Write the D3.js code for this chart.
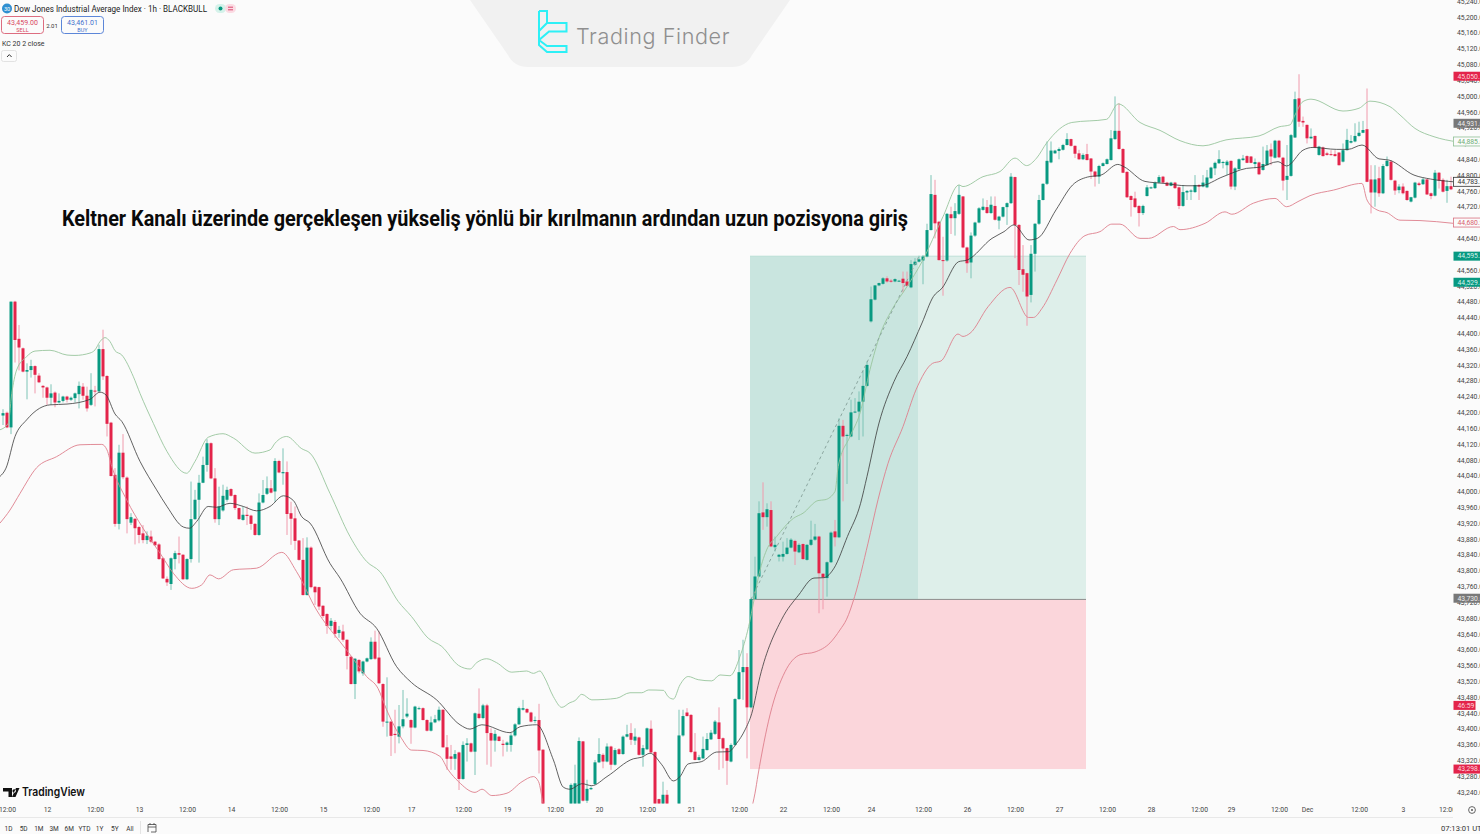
<!DOCTYPE html>
<html>
<head>
<meta charset="utf-8">
<script src="https://cdn.jsdelivr.net/npm/d3@7"></script>
<style>
  html, body { margin: 0; padding: 0; background: #fbfbfb; overflow: hidden; }
  svg { display: block; font-family: Roboto, sans-serif; }
</style>
</head>
<body>
<svg id="chart" width="1480" height="834"></svg>
<script>
// hourly candles
var opens = [
  44192,44199,44162,44480,44386,44362,44303,44307,44317,44293,
  44267,44263,44237,44250,44225,44229,44240,44232,44236,44246,
  44265,44242,44219,44255,44253,44360,44292,44174,44042,43918,
  44098,44035,43921,43931,43910,43894,43877,43886,43873,43866,
  43831,43779,43766,43829,43844,43840,43778,43829,43930,43979,
  44022,44067,44122,44033,43930,43952,43979,44006,43991,43958,
  43928,43941,43939,43918,43890,43972,43994,44008,44000,44077,
  44046,44049,43945,43932,43876,43827,43738,43858,43759,43758,
  43711,43690,43660,43670,43642,43646,43625,43582,43513,43574,
  43540,43570,43576,43620,43580,43513,43416,43418,43387,43380,
  43406,43431,43422,43403,43450,43452,43422,43395,43416,43421,
  43448,43353,43330,43324,43340,43273,43359,43363,43342,43438,
  43427,43459,43389,43370,43380,43362,43359,43359,43383,43411,
  43448,43450,43441,43420,43422,43347,43200,43170,43190,43195,
  43180,43185,43190,43200,43205,43368,43218,43247,43260,43315,
  43334,43317,43355,43309,43348,43336,43380,43389,43370,43378,
  43334,43348,43400,43341,43222,43200,43233,43195,43180,43195,
  43383,43441,43435,43342,43321,43325,43346,43373,43387,43416,
  43376,43351,43317,43359,43475,43543,43556,43454,43728,43785,
  43947,43935,43953,43859,43835,43835,43842,43858,43875,43846,
  43867,43827,43865,43878,43886,43792,43781,43821,43899,43884,
  44166,44141,44139,44200,44202,44227,44267,44430,44485,44521,
  44525,44539,44533,44531,44532,44538,44531,44516,44573,44581,
  44584,44594,44661,44750,44682,44585,44584,44701,44691,44702,
  44746,44617,44579,44647,44680,44712,44719,44704,44722,44685,
  44695,44719,44729,44795,44674,44562,44552,44497,44601,44677,
  44737,44778,44832,44855,44861,44864,44876,44891,44874,44855,
  44840,44853,44842,44809,44796,44823,44828,44838,44891,44912,
  44866,44808,44747,44741,44722,44704,44747,44767,44767,44781,
  44796,44781,44773,44781,44769,44722,44756,44758,44757,44775,
  44771,44769,44792,44817,44830,44831,44825,44836,44771,44815,
  44838,44848,44847,44828,44832,44813,44825,44865,44844,44887,
  44844,44788,44798,44895,44994,44937,44927,44893,44899,44851,
  44870,44855,44853,44853,44857,44834,44863,44882,44885,44899,
  44907,44916,44789,44756,44792,44754,44823,44834,44786,44762,
  44771,44760,44733,44743,44779,44777,44789,44754,44748,44806,
  44788,44760,44772
];
var highs = [
  44208,44202,44480,44482,44421,44364,44324,44333,44319,44299,
  44269,44265,44271,44253,44248,44242,44242,44240,44250,44278,
  44274,44265,44299,44267,44371,44409,44294,44176,44059,44118,
  44145,44038,43945,43932,43913,43915,43899,43901,43875,43869,
  43833,43785,43833,43850,43886,43841,43831,44025,44004,44042,
  44088,44132,44124,44059,44012,44017,44012,44008,43993,43959,
  43962,43962,43941,43920,43995,44029,44038,44029,44084,44080,
  44109,44076,43974,43962,43877,43882,43884,43861,43761,43759,
  43712,43692,43680,43675,43660,43663,43626,43584,43579,43576,
  43572,43580,43631,43648,43646,43515,43530,43420,43448,43460,
  43498,43477,43424,43458,43456,43454,43424,43431,43435,43456,
  43449,43384,43359,43346,43342,43368,43376,43365,43441,43502,
  43463,43463,43401,43397,43382,43372,43368,43389,43414,43456,
  43473,43452,43443,43431,43463,43348,43205,43195,43200,43205,
  43195,43200,43262,43309,43378,43369,43271,43254,43321,43376,
  43338,43363,43357,43351,43351,43383,43410,43414,43401,43380,
  43359,43403,43421,43343,43223,43266,43245,43200,43195,43448,
  43448,43452,43437,43389,43334,43380,43389,43397,43422,43454,
  43378,43352,43363,43477,43599,43625,43591,43729,43835,43975,
  44023,43970,43975,43886,43842,43873,43882,43882,43878,43869,
  43869,43867,43926,43918,43888,43793,43823,43899,43928,44185,
  44181,44146,44232,44236,44253,44306,44329,44518,44522,44528,
  44542,44544,44537,44539,44535,44556,44556,44585,44590,44596,
  44598,44677,44800,44788,44684,44644,44704,44720,44729,44775,
  44747,44619,44655,44682,44719,44741,44737,44746,44746,44697,
  44720,44731,44805,44796,44676,44623,44553,44623,44678,44750,
  44779,44885,44885,44864,44870,44879,44906,44892,44875,44864,
  44855,44879,44843,44811,44826,44832,44842,44914,44999,44982,
  44868,44810,44749,44758,44724,44725,44775,44771,44784,44800,
  44798,44783,44783,44783,44771,44775,44762,44764,44800,44777,
  44800,44813,44821,44834,44863,44836,44838,44837,44820,44842,
  44851,44850,44848,44842,44834,44872,44876,44880,44889,44889,
  44846,44876,44904,45011,45055,44948,44928,44918,44900,44874,
  44872,44859,44863,44863,44858,44880,44917,44901,44931,44935,
  44937,45019,44825,44825,44821,44828,44847,44838,44788,44777,
  44779,44761,44745,44783,44783,44794,44791,44756,44813,44808,
  44792,44788,44796
];
var lows = [
  44168,44160,44145,44326,44306,44301,44233,44288,44248,44274,
  44237,44219,44219,44213,44223,44225,44225,44229,44225,44210,
  44232,44202,44216,44215,44250,44282,44139,44038,43911,43904,
  44031,43894,43915,43866,43869,43869,43867,43869,43862,43827,
  43779,43761,43751,43803,43818,43776,43776,43820,43928,43820,
  44021,44050,44031,43921,43915,43949,43974,43987,43953,43928,
  43926,43915,43903,43888,43888,43970,43991,43995,43974,44046,
  44017,43890,43865,43852,43825,43737,43737,43755,43713,43700,
  43680,43640,43650,43630,43630,43620,43550,43512,43475,43540,
  43534,43568,43574,43574,43513,43405,43380,43331,43338,43363,
  43401,43427,43362,43401,43448,43421,43393,43393,43414,43418,
  43352,43296,43296,43296,43245,43271,43317,43340,43283,43424,
  43424,43309,43304,43342,43368,43330,43342,43342,43380,43410,
  43446,43439,43416,43414,43287,43180,43165,43165,43180,43185,
  43170,43175,43170,43180,43190,43216,43212,43245,43258,43313,
  43300,43315,43296,43307,43334,43334,43378,43359,43359,43332,
  43304,43346,43338,43180,43190,43190,43190,43175,43175,43180,
  43380,43431,43338,43320,43320,43324,43345,43372,43384,43296,
  43300,43258,43315,43357,43473,43473,43325,43452,43726,43783,
  43903,43911,43859,43848,43823,43823,43840,43856,43814,43844,
  43827,43825,43862,43875,43692,43702,43734,43819,43861,43882,
  43975,44019,44137,44198,44130,44139,44265,44427,44483,44519,
  44523,44528,44528,44529,44530,44503,44518,44514,44571,44579,
  44524,44592,44660,44640,44584,44495,44581,44651,44647,44699,
  44615,44553,44539,44644,44678,44710,44702,44702,44685,44663,
  44693,44674,44727,44590,44522,44505,44419,44478,44556,44674,
  44736,44775,44830,44854,44840,44862,44875,44872,44843,44838,
  44838,44837,44790,44771,44778,44822,44827,44837,44889,44864,
  44805,44742,44695,44717,44670,44699,44746,44765,44765,44779,
  44779,44772,44772,44765,44714,44720,44737,44737,44755,44737,
  44769,44767,44790,44800,44828,44817,44800,44764,44762,44814,
  44836,44830,44830,44817,44800,44811,44824,44825,44842,44843,
  44761,44737,44796,44894,44922,44922,44880,44891,44868,44849,
  44847,44849,44849,44847,44824,44832,44862,44880,44883,44897,
  44906,44782,44703,44720,44745,44752,44821,44786,44750,44754,
  44751,44735,44731,44741,44772,44775,44750,44739,44746,44766,
  44756,44730,44762
];
var closes = [
  44198,44162,44480,44383,44364,44303,44307,44317,44295,44276,
  44263,44237,44248,44225,44229,44240,44232,44237,44248,44267,
  44242,44210,44257,44253,44360,44291,44171,44039,43918,44098,
  44036,43930,43935,43907,43890,43877,43888,43873,43864,43829,
  43780,43770,43831,43844,43840,43778,43829,43930,43979,44022,
  44067,44122,44033,43930,43962,43989,44004,43989,43958,43930,
  43941,43938,43918,43890,43972,43991,44008,43997,44077,44048,
  44049,43943,43931,43875,43827,43738,43858,43758,43745,43709,
  43685,43660,43673,43640,43650,43625,43584,43513,43577,43545,
  43570,43578,43620,43577,43515,43418,43418,43382,43384,43406,
  43424,43438,43403,43456,43452,43422,43395,43416,43424,43448,
  43353,43324,43324,43336,43273,43359,43363,43342,43439,43427,
  43459,43389,43370,43387,43369,43359,43365,43383,43411,43452,
  43452,43441,43418,43422,43345,43190,43170,43190,43195,43180,
  43185,43190,43258,43262,43369,43218,43248,43250,43315,43336,
  43317,43355,43309,43346,43336,43380,43386,43372,43380,43334,
  43351,43401,43340,43190,43205,43233,43200,43180,43195,43383,
  43432,43432,43341,43321,43328,43349,43374,43390,43418,43374,
  43350,43319,43359,43475,43543,43556,43454,43728,43785,43945,
  43935,43955,43861,43865,43840,43842,43858,43878,43848,43865,
  43829,43865,43878,43886,43793,43783,43821,43896,43884,44166,
  44139,44143,44200,44202,44227,44267,44320,44486,44521,44527,
  44539,44531,44531,44537,44533,44527,44520,44575,44581,44587,
  44594,44661,44752,44678,44585,44584,44702,44691,44709,44750,
  44617,44577,44647,44680,44716,44720,44704,44725,44687,44695,
  44719,44729,44796,44674,44560,44548,44493,44601,44677,44737,
  44778,44836,44862,44862,44866,44876,44891,44874,44854,44840,
  44851,44838,44809,44796,44823,44830,44840,44893,44912,44866,
  44806,44744,44737,44719,44704,44722,44769,44769,44781,44795,
  44781,44773,44781,44767,44722,44757,44760,44761,44775,44771,
  44781,44794,44819,44831,44840,44833,44834,44771,44817,44840,
  44842,44831,44831,44833,44802,44828,44862,44847,44887,44845,
  44786,44798,44901,44992,44935,44933,44893,44897,44870,44872,
  44848,44851,44851,44848,44825,44863,44889,44886,44899,44907,
  44914,44783,44756,44789,44754,44823,44836,44788,44761,44771,
  44754,44737,44744,44781,44775,44789,44751,44747,44806,44786,
  44758,44772,44764
];

// keltner channel, [bar, price]
var kcUpper = [
  [-0.75,44156],[1.3,44172],[2.2,44248],[3.4,44307],[5.9,44341],[8,44355],[11.75,44357],[16,44345],[18,44344],[21.75,44350],
  [23,44358],[24.25,44379],[25.5,44389],[26.75,44379],[28,44356],[29.7,44345],[32.6,44290],[34.25,44248],[37.6,44172],[41,44101],
  [45.9,44046],[48,44076],[51.3,44137],[55,44146],[57.6,44135],[63,44097],[66.75,44105],[68,44122],[70.9,44139],[74.7,44108],
  [76.75,44097],[81.75,43995],[86.75,43886],[90.9,43823],[94.25,43797],[98.8,43722],[102.1,43684],[106.3,43629],[109.7,43608],[113.9,43560],
  [116.75,43551],[118.4,43567],[120.9,43577],[123.4,43567],[127.2,43543],[130.9,43546],[132.6,43540],[134.25,43546],[135.25,43532],[137.6,43481],
  [139.7,43454],[141.75,43466],[143,43471],[144.7,43487],[147.2,43473],[153.4,43477],[156.75,43491],[159.7,43491],[161.4,43498],[165.1,43497],
  [166.3,43481],[167.6,43475],[169.25,43511],[171.3,43532],[173.8,43524],[177.2,43521],[179.25,43536],[181.75,43534],[184.25,43583],[186.4,43658],
  [187.8,43728],[188.8,43781],[190.9,43852],[193.4,43886],[197.6,43932],[200,43945],[203.75,43977],[205.5,43979],[208,44000],[208.8,44063],
  [211.75,44139],[214.25,44198],[216.75,44308],[219.25,44396],[222.2,44459],[226,44518],[229.75,44581],[235,44695],[239,44775],[240,44771],
  [245,44796],[249.25,44809],[253,44843],[255.9,44824],[258.4,44843],[260.9,44881],[267.2,44933],[275.9,44941],[278.8,44980],[284.25,44933],
  [289.25,44913],[294.25,44887],[300,44874],[305.75,44889],[314,44899],[319,44922],[321.75,44927],[323,44952],[325,44986],[327,44992],
  [335,44962],[339,44969],[341.75,44987],[346.75,44973],[349.25,44952],[353,44918],[357.75,44897],[363.5,44884]
];
var kcMiddle = [
  [-0.75,44038],[0.75,44059],[3,44139],[5.9,44181],[9.1,44210],[11.75,44219],[16,44221],[21.75,44233],[24.25,44251],[25.75,44244],
  [28,44196],[29.7,44177],[34.25,44076],[38.4,44004],[41,43962],[45.1,43910],[46.6,43907],[48.4,43924],[51.3,43962],[53.4,43960],
  [56.75,43970],[60.1,43962],[63.4,43951],[66.75,43962],[70.1,43989],[72.6,43977],[74.7,43936],[76.75,43920],[81.75,43818],[84.25,43781],
  [89.25,43692],[93.4,43654],[98.4,43557],[102.1,43517],[108.4,43473],[114.25,43410],[116.75,43399],[119.7,43410],[126.75,43390],[129.25,43405],
  [133.4,43410],[137.6,43321],[140.1,43252],[141.75,43247],[144.7,43261],[147.2,43256],[151,43279],[157.6,43324],[159.7,43328],[161.75,43338],
  [164.7,43309],[167.6,43268],[169.25,43279],[171.3,43311],[174.7,43317],[178.4,43341],[181.4,43342],[183.4,43363],[185.5,43397],[187.2,43439],
  [189.25,43532],[194.7,43677],[198.9,43738],[202.75,43781],[205.25,43782],[207.75,43806],[211.1,43886],[214.4,43970],[216,44038],[219,44173],
  [222.75,44278],[226,44341],[229.75,44426],[232.6,44493],[234.75,44514],[238.9,44581],[241,44585],[247.25,44640],[250.25,44657],[252.75,44674],
  [256.5,44636],[258.6,44640],[263.25,44712],[267.4,44775],[271.1,44795],[274.5,44800],[278.7,44827],[280.25,44821],[285.5,44784],[290.25,44779],
  [296,44773],[299.25,44773],[305,44796],[310.9,44817],[314.25,44820],[318.75,44834],[320.9,44823],[325,44863],[327.5,44870],[333.4,44865],
  [336.25,44865],[339.75,44876],[344,44841],[346.5,44838],[352.75,44800],[356.9,44790],[362.75,44783]
];
var kcLower = [
  [-0.75,43920],[1.75,43953],[4.25,43995],[8.4,44060],[13.4,44088],[19.25,44118],[24.7,44119],[26,44105],[27.2,44063],[30.9,43979],
  [35,43907],[39.25,43844],[42.6,43793],[47.2,43755],[49.7,43764],[51.75,43789],[53.9,43779],[57.6,43802],[63.4,43806],[69.7,43846],
  [73.4,43797],[78.4,43700],[84.25,43620],[85.9,43599],[90.9,43532],[93.75,43502],[95.9,43448],[99.6,43376],[102.1,43346],[105,43345],
  [109.25,43330],[111.3,43296],[113.9,43266],[118,43239],[119.75,43247],[122.2,43231],[126,43237],[129.75,43266],[132.6,43279],[133.9,43266],
  [135,43212],[140,43050],[165,43090],[180,43130],[186,43170],[188,43237],[188.75,43283],[191.75,43435],[195.5,43544],[199.25,43587],
  [203,43594],[206.75,43617],[209.25,43650],[210.9,43677],[212.9,43734],[216.25,43869],[218.75,43979],[221.25,44071],[225,44164],[228.25,44257],
  [232.4,44324],[234.5,44330],[238.75,44398],[240,44392],[241.75,44400],[246.25,44467],[251.75,44516],[256.4,44440],[257.6,44440],[259.75,44463],
  [263.5,44535],[266.75,44602],[270.5,44647],[274.25,44657],[277.2,44676],[279.25,44676],[284.25,44640],[286.4,44640],[292.6,44670],[294.25,44662],
  [300.5,44678],[305.5,44707],[307.2,44701],[312.6,44729],[318,44741],[320.9,44720],[323.75,44733],[326.75,44748],[332.6,44762],[339.75,44779],
  [341,44737],[343.5,44712],[346,44705],[349.25,44686],[354.25,44685],[362.6,44678]
];

// long position tool
var positionBars = [186.75, 228.75, 270.75];
var entryPrice = 43727;
var targetPrice = 44595;
var stopPrice = 43298;
var pathBars = [187, 229];
var pathPrices = [43727, 44595];

// axes
var priceTicks = d3.range(43240, 45241, 40);
var timeTickBars = [1,11,23,34,46,57,69,80,92,102,115,126,138,149,161,172,184,195,207,217,230,241,253,264,276,287,299,307,319,326,339,350,361];
var timeTickLabels = ["12:00","12","12:00","13","12:00","14","12:00","15","12:00","17","12:00","19","12:00","20","12:00","21","12:00","22","12:00","24","12:00","26","12:00","27","12:00","28","12:00","29","12:00","Dec","12:00","3","12:00"];
var rangeLabels = ["1D","5D","1M","3M","6M","YTD","1Y","5Y","All"];

// tags on the price axis
var tagPrices = [45050, 44931, 44885, 44783, 44680, 44595, 44529, 43730, 43459, 43298];
var tagTexts = ["45,050.20","44,931.00","44,885.60","44,783.10","44,680.90","44,595.20","44,529.80","43,730.00","46:59","43,298.00"];
var tagKinds = ["red","grey","upper","mid","lower","green","green","grey","timer","red"];

var width = 1480, plotRight = 1453, plotBottom = 803.5;
var upColor = "#089981", downColor = "#e3244a";

var svg = d3.select("#chart");
svg.append("rect").attr("width", width).attr("height", 834).attr("fill", "#fbfbfb");

var x = d3.scaleLinear().domain([0, 362]).range([3, 1451]);
var y = d3.scaleLinear().domain([43240, 45000]).range([792, 96]);

var defs = svg.append("defs");
defs.append("clipPath").attr("id", "plotClip").append("rect").attr("width", plotRight).attr("height", plotBottom);
defs.append("clipPath").attr("id", "timeClip").append("rect").attr("y", plotBottom).attr("width", plotRight).attr("height", 20);

var plot = svg.append("g").attr("clip-path", "url(#plotClip)");

// position boxes
plot.append("rect").attr("x", x(positionBars[0])).attr("width", x(positionBars[1]) - x(positionBars[0]))
  .attr("y", y(targetPrice)).attr("height", y(entryPrice) - y(targetPrice)).attr("fill", "#c9e5df");
plot.append("rect").attr("x", x(positionBars[1])).attr("width", x(positionBars[2]) - x(positionBars[1]))
  .attr("y", y(targetPrice)).attr("height", y(entryPrice) - y(targetPrice)).attr("fill", "#deefea");
plot.append("rect").attr("x", x(positionBars[0])).attr("width", x(positionBars[2]) - x(positionBars[0]))
  .attr("y", y(entryPrice)).attr("height", y(stopPrice) - y(entryPrice)).attr("fill", "#fbd6db");
plot.append("line").attr("x1", x(positionBars[0])).attr("x2", x(positionBars[2]))
  .attr("y1", y(entryPrice)).attr("y2", y(entryPrice)).attr("stroke", "#8c8c8c").attr("stroke-width", 1);
plot.append("line").attr("x1", x(positionBars[0])).attr("x2", x(positionBars[2]))
  .attr("y1", y(targetPrice)).attr("y2", y(targetPrice)).attr("stroke", "#b4dcd3").attr("stroke-width", 0.8);

// candles
var bars = d3.range(opens.length);
plot.append("g").selectAll("line").data(bars).join("line")
  .attr("x1", function(i) { return x(i); })
  .attr("x2", function(i) { return x(i); })
  .attr("y1", function(i) { return y(highs[i]); })
  .attr("y2", function(i) { return y(lows[i]); })
  .attr("stroke", function(i) { return closes[i] >= opens[i] ? "#7cc4b6" : "#f09aac"; })
  .attr("stroke-width", 1);
plot.append("g").selectAll("rect").data(bars).join("rect")
  .attr("x", function(i) { return x(i) - 1.5; })
  .attr("width", 3)
  .attr("y", function(i) { return y(Math.max(opens[i], closes[i])); })
  .attr("height", function(i) { return Math.max(1, Math.abs(y(opens[i]) - y(closes[i]))); })
  .attr("fill", function(i) { return closes[i] >= opens[i] ? upColor : downColor; });

// channel lines
var kcLine = d3.line()
  .x(function(d) { return x(d[0]); })
  .y(function(d) { return y(d[1]); })
  .curve(d3.curveMonotoneX);
plot.append("path").attr("d", kcLine(kcUpper)).attr("fill", "none").attr("stroke", "#98c59d").attr("stroke-width", 0.9);
plot.append("path").attr("d", kcLine(kcLower)).attr("fill", "none").attr("stroke", "#de7f8c").attr("stroke-width", 0.9);
plot.append("path").attr("d", kcLine(kcMiddle)).attr("fill", "none").attr("stroke", "#3a3a3a").attr("stroke-width", 0.8);

plot.append("path").attr("d", d3.line().x(function(d) { return x(d); }).y(function(d, i) { return y(pathPrices[i]); })(pathBars))
  .attr("fill", "none").attr("stroke", "#8ba69f").attr("stroke-width", 1).attr("stroke-dasharray", "3,3");

// time axis
svg.append("g").attr("clip-path", "url(#timeClip)").append("g")
  .attr("transform", "translate(0,807.5)")
  .call(d3.axisBottom(x).tickValues(timeTickBars).tickSize(0).tickPadding(0)
    .tickFormat(function(d, i) { return timeTickLabels[i]; }))
  .call(function(g) {
    g.select(".domain").remove();
    g.selectAll("text").attr("font-size", 6.8).attr("font-family", "Roboto, sans-serif").attr("fill", "#444");
  });

// price axis
svg.append("g").attr("transform", "translate(1453,0)")
  .call(d3.axisRight(y).tickValues(priceTicks).tickSize(0).tickPadding(4).tickFormat(d3.format(",.2f")))
  .call(function(g) {
    g.select(".domain").remove();
    g.selectAll("text").attr("font-size", 6.8).attr("font-family", "Roboto, sans-serif").attr("fill", "#444");
  });

// tags
var tagStyle = {
  red: { fill: "#e3244a", stroke: "none", text: "#ffd5dc" },
  grey: { fill: "#787878", stroke: "none", text: "#eeeeee" },
  upper: { fill: "#fbfbfb", stroke: "#8fc095", text: "#6fae76" },
  mid: { fill: "#fbfbfb", stroke: "#333333", text: "#333333" },
  lower: { fill: "#fbfbfb", stroke: "#d9707f", text: "#d9606f" },
  green: { fill: "#089981", stroke: "none", text: "#d8f3ec" },
  timer: { fill: "#e3244a", stroke: "none", text: "#ffd5dc" }
};
var tags = svg.append("g").selectAll("g").data(d3.range(tagPrices.length)).join("g")
  .attr("transform", function(i) { return "translate(1453.5," + y(tagPrices[i]) + ")"; });
tags.append("rect")
  .attr("y", -4.5).attr("height", 9)
  .attr("width", function(i) { return tagKinds[i] === "timer" ? 22 : 28; })
  .attr("fill", function(i) { return tagStyle[tagKinds[i]].fill; })
  .attr("stroke", function(i) { return tagStyle[tagKinds[i]].stroke; })
  .attr("stroke-width", 0.8);
tags.append("text").attr("x", 4).attr("dy", "0.34em").attr("font-size", 6.8)
  .attr("fill", function(i) { return tagStyle[tagKinds[i]].text; })
  .text(function(i) { return tagTexts[i]; });

// headline
svg.append("text").attr("x", 62).attr("y", 225.5).attr("font-size", 22).attr("font-weight", 700)
  .attr("fill", "#0a0a0a").attr("textLength", 846).attr("lengthAdjust", "spacingAndGlyphs")
  .attr("font-family", "Roboto, sans-serif")
  .text("Keltner Kanalı üzerinde gerçekleşen yükseliş yönlü bir kırılmanın ardından uzun pozisyona giriş");

// watermark
svg.append("path").attr("d", "M470 0H790L752 55Q746 67 732 67H528Q514 67 508 55Z").attr("fill", "#f1f1f1");
svg.append("path")
  .attr("d", "M539 11H547V23H566.5V31.5H549L539 40V31L547 23M539 11V31M539 40L547 46H566.5V52H547L539 45V40")
  .attr("fill", "none").attr("stroke", "#2df0f6").attr("stroke-width", 2);
svg.append("text").attr("x", 576).attr("y", 44).attr("font-size", 22).attr("font-weight", 300)
  .attr("font-family", "Inter, sans-serif").attr("fill", "#8f8f8f").attr("letter-spacing", 0.6)
  .attr("textLength", 154).attr("lengthAdjust", "spacingAndGlyphs").text("Trading Finder");

// symbol header
var head = svg.append("g");
head.append("circle").attr("cx", 7).attr("cy", 8.5).attr("r", 5).attr("fill", "#2f8fd0");
head.append("text").attr("x", 7).attr("y", 10.5).attr("text-anchor", "middle").attr("font-size", 5.5).attr("fill", "#fff").text("30");
head.append("text").attr("x", 14).attr("y", 11.5).attr("font-size", 9).attr("fill", "#222")
  .attr("textLength", 193).attr("lengthAdjust", "spacingAndGlyphs")
  .text("Dow Jones Industrial Average Index · 1h · BLACKBULL");
head.append("rect").attr("x", 215).attr("y", 4).attr("width", 11).attr("height", 9).attr("rx", 4.5).attr("fill", "#d5f2ea");
head.append("circle").attr("cx", 220.5).attr("cy", 8.5).attr("r", 2).attr("fill", "#089981");
head.append("rect").attr("x", 225).attr("y", 4).attr("width", 11).attr("height", 9).attr("rx", 4.5).attr("fill", "#fbdbe3");
head.append("path").attr("d", "M228 7.2H233M228 9.8H233").attr("stroke", "#d9486e").attr("stroke-width", 1);

head.append("rect").attr("x", 1.5).attr("y", 16.5).attr("width", 42).attr("height", 17).attr("rx", 3)
  .attr("fill", "#fbfbfb").attr("stroke", "#dd6d80");
head.append("text").attr("x", 22.5).attr("y", 24.5).attr("text-anchor", "middle").attr("font-size", 7).attr("fill", "#d9475f").text("43,459.00");
head.append("text").attr("x", 22.5).attr("y", 31.5).attr("text-anchor", "middle").attr("font-size", 5.5).attr("fill", "#d9475f").text("SELL");
head.append("text").attr("x", 52).attr("y", 27.5).attr("text-anchor", "middle").attr("font-size", 6).attr("fill", "#333").text("2.01");
head.append("rect").attr("x", 61.5).attr("y", 16.5).attr("width", 42).attr("height", 17).attr("rx", 3)
  .attr("fill", "#fbfbfb").attr("stroke", "#5c86d8");
head.append("text").attr("x", 82.5).attr("y", 24.5).attr("text-anchor", "middle").attr("font-size", 7).attr("fill", "#3f6fcc").text("43,461.01");
head.append("text").attr("x", 82.5).attr("y", 31.5).attr("text-anchor", "middle").attr("font-size", 5.5).attr("fill", "#3f6fcc").text("BUY");
head.append("text").attr("x", 2).attr("y", 45.5).attr("font-size", 7).attr("fill", "#333").text("KC 20 2 close");
head.append("rect").attr("x", 1.5).attr("y", 50.5).attr("width", 15).attr("height", 11).attr("rx", 2)
  .attr("fill", "#fbfbfb").attr("stroke", "#e2e2e2");
head.append("path").attr("d", "M7 57L9.3 54.6L11.6 57").attr("fill", "none").attr("stroke", "#333").attr("stroke-width", 1);

// tradingview mark
var tv = svg.append("g");
tv.append("path").attr("d", "M3 788H12V797H8.5V791.5H3ZM12.5 791A1.7 1.7 0 1 0 12.5 790.9ZM16 788H19.5L15.5 797H12Z").attr("fill", "#111");
tv.append("text").attr("x", 22).attr("y", 796).attr("font-size", 11.5).attr("font-weight", 600).attr("fill", "#111")
  .attr("font-family", "Inter, sans-serif").attr("textLength", 63).attr("lengthAdjust", "spacingAndGlyphs").text("TradingView");

// bottom toolbar
svg.append("line").attr("x1", 0).attr("x2", plotRight).attr("y1", 817.5).attr("y2", 817.5).attr("stroke", "#e8e8e8");
var rangeX = d3.scalePoint().domain(rangeLabels).range([8.5, 130]);
svg.append("g").selectAll("text").data(rangeLabels).join("text")
  .attr("x", function(d) { return rangeX(d); }).attr("y", 830.5).attr("text-anchor", "middle")
  .attr("font-size", 6.5).attr("fill", "#333").text(function(d) { return d; });
svg.append("line").attr("x1", 140.5).attr("x2", 140.5).attr("y1", 821).attr("y2", 834).attr("stroke", "#e4e4e4");
svg.append("path").attr("d", "M148 824.5H156V832H151M148 832V824.5M148 827H156M150 823V825M154 823V825")
  .attr("fill", "none").attr("stroke", "#444").attr("stroke-width", 0.8);
svg.append("text").attr("x", 1441).attr("y", 830.5).attr("font-size", 7.6).attr("fill", "#333").text("07:13:01 UTC");
svg.append("circle").attr("cx", 1472).attr("cy", 810).attr("r", 3.4).attr("fill", "none").attr("stroke", "#555").attr("stroke-width", 0.9);
svg.append("circle").attr("cx", 1472).attr("cy", 810).attr("r", 1).attr("fill", "#555");
</script>
</body>
</html>
